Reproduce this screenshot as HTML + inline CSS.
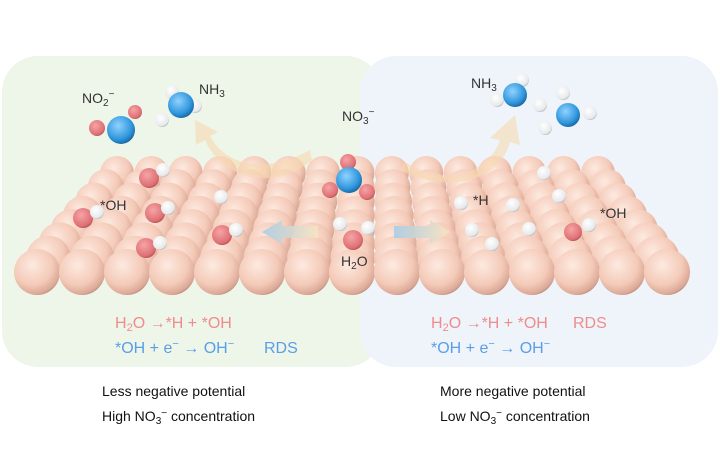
<!DOCTYPE html>
<html><head><meta charset="utf-8"><style>
html,body{margin:0;padding:0;background:#fff;}
svg{display:block;font-family:"Liberation Sans",sans-serif;}
</style></head><body>
<svg id="s" width="720" height="475" viewBox="0 0 720 475" xmlns="http://www.w3.org/2000/svg">
<defs>
<radialGradient id="cu" cx="0.4" cy="0.35" r="0.72">
<stop offset="0" stop-color="#fdeae0"/><stop offset="0.6" stop-color="#f4cab8"/><stop offset="0.88" stop-color="#dba897"/><stop offset="1" stop-color="#a07566"/>
</radialGradient>
<radialGradient id="n" cx="0.4" cy="0.35" r="0.7"><stop offset="0" stop-color="#8fd3ff"/><stop offset="0.7" stop-color="#2f95dc"/><stop offset="1" stop-color="#16609a"/></radialGradient>
<radialGradient id="o" cx="0.4" cy="0.35" r="0.7"><stop offset="0" stop-color="#f6a4a6"/><stop offset="0.8" stop-color="#de6f74"/><stop offset="1" stop-color="#a84a50"/></radialGradient>
<radialGradient id="h" cx="0.4" cy="0.35" r="0.7"><stop offset="0" stop-color="#ffffff"/><stop offset="0.8" stop-color="#e6e8ea"/><stop offset="1" stop-color="#a8acb0"/></radialGradient>
<linearGradient id="arr" x1="0" y1="0" x2="1" y2="0"><stop offset="0" stop-color="#a9cde6"/><stop offset="1" stop-color="#f7e3c0"/></linearGradient>
</defs>
<rect x="2" y="56" width="380" height="311" rx="36" fill="#eef5e9"/>
<rect x="360" y="56" width="358" height="311" rx="36" fill="#eef4fa"/>
<rect x="360" y="80" width="30" height="260" fill="#eef4fa"/>
<g id="g"></g>
<g id="fx"></g>
<g font-size="14" fill="#333">
<text x="82" y="103">NO<tspan font-size="10" dy="3">2</tspan><tspan font-size="10" dy="-9">−</tspan></text>
<text x="199" y="94">NH<tspan font-size="10" dy="3">3</tspan></text>
<text x="342" y="121">NO<tspan font-size="10" dy="3">3</tspan><tspan font-size="10" dy="-9">−</tspan></text>
<text x="471" y="88">NH<tspan font-size="10" dy="3">3</tspan></text>
<text x="100" y="210">*OH</text>
<text x="473" y="205">*H</text>
<text x="600" y="218">*OH</text>
<text x="341" y="266">H<tspan font-size="10" dy="3">2</tspan><tspan dy="-3">O</tspan></text>
</g>
<g font-size="16">
<text x="115" y="328" fill="#f08c8c">H<tspan font-size="11" dy="3">2</tspan><tspan dy="-3">O →*H + *OH</tspan></text>
<text x="115" y="353" fill="#5a9ee8">*OH + e<tspan font-size="11" dy="-6">−</tspan><tspan dy="6"> → OH</tspan><tspan font-size="11" dy="-6">−</tspan><tspan dy="6" x="264">RDS</tspan></text>
<text x="431" y="328" fill="#f08c8c">H<tspan font-size="11" dy="3">2</tspan><tspan dy="-3">O →*H + *OH</tspan><tspan x="573">RDS</tspan></text>
<text x="431" y="353" fill="#5a9ee8">*OH + e<tspan font-size="11" dy="-6">−</tspan><tspan dy="6"> → OH</tspan><tspan font-size="11" dy="-6">−</tspan></text>
</g>
<g font-size="14" fill="#111">
<text x="102" y="396">Less negative potential</text>
<text x="102" y="421">High NO<tspan font-size="10" dy="3">3</tspan><tspan font-size="10" dy="-8">−</tspan><tspan dy="5"> concentration</tspan></text>
<text x="440" y="396">More negative potential</text>
<text x="440" y="421">Low NO<tspan font-size="10" dy="3">3</tspan><tspan font-size="10" dy="-8">−</tspan><tspan dy="5"> concentration</tspan></text>
</g>
</svg>
<script>
var ns="http://www.w3.org/2000/svg",g=document.getElementById('g'),fx=document.getElementById('fx');
function c(p,x,y,r,f){var e=document.createElementNS(ns,'circle');e.setAttribute('cx',x);e.setAttribute('cy',y);e.setAttribute('r',r);e.setAttribute('fill','url(#'+f+')');p.appendChild(e);}
for(var r=0;r<8;r++){var t=r/7,y=173+t*99,x0=117-t*80,x1=598+t*69,rad=17+t*6;
for(var i=0;i<15;i++)c(g,x0+(x1-x0)*i/14,y,rad,'cu');}
function P(d,f,o){var e=document.createElementNS(ns,'path');e.setAttribute('d',d);e.setAttribute('fill',f);e.setAttribute('opacity',o);fx.appendChild(e);}
P('M312,160 C270,195 220,175 205,140 L196,145 L195,120 L218,132 L210,136 C225,165 265,175 310,150Z','#f7d8b0',0.6);
P('M405,162 C450,190 490,170 500,140 L490,138 L515,115 L520,145 L510,142 C500,180 450,195 400,170Z','#f7d8b0',0.6);
P('M318,226 L282,226 L282,220 L262,232 L282,244 L282,238 L318,238Z','url(#arr)',0.9);
P('M394,226 L430,226 L430,220 L450,232 L430,244 L430,238 L394,238Z','url(#arr)',0.9);
var m=[
['o',97,128,8],['o',135,112,7],['n',121,130,14],
['h',172,92,7],['h',162,120,7],['h',195,106,7],['n',181,105,13],
['o',348,162,8],['o',330,190,8],['o',367,192,8],['n',349,180,13],
['h',340,224,7],['h',368,228,7],['o',353,240,10],
['h',522,80,7],['h',497,100,7],['h',540,105,7],['n',515,95,12],
['h',563,93,7],['h',545,128,7],['h',590,113,7],['n',568,115,12],
['o',149,178,10],['h',163,170,7],['o',83,218,10],['h',97,212,7],
['o',155,213,10],['h',168,208,7],['o',146,248,10],['h',160,243,7],
['o',222,235,10],['h',236,230,7],['h',221,197,7],
['h',461,203,7],['h',513,205,7],['h',544,173,7],['h',559,196,7],
['h',472,230,7],['h',529,229,7],['h',492,244,7],
['o',573,232,9],['h',589,225,7]];
m.forEach(function(a){c(fx,a[1],a[2],a[3],a[0]);});
</script>
</body></html>
